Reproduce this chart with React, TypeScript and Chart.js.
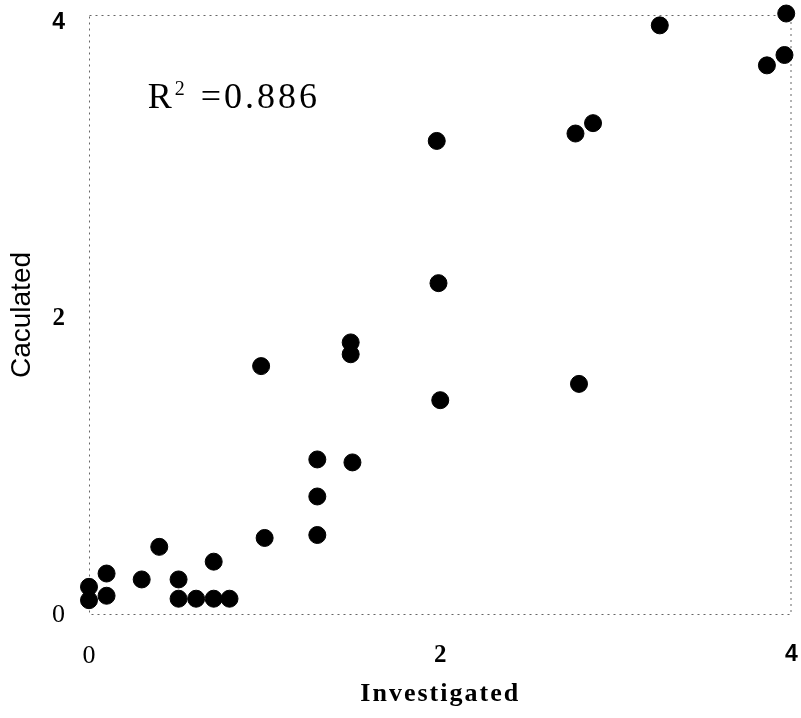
import React, { useEffect, useRef } from 'react';
import { Chart, registerables, LinearScale } from 'chart.js';

Chart.register(...registerables);

// ---- data ----
const investigated = [0.0, 0.0, 0.1, 0.1, 0.3, 0.4, 0.51, 0.51, 0.61, 0.71, 0.71, 0.8, 1.0, 1.3, 1.3, 1.3, 1.5, 0.98, 1.49, 1.49, 1.98, 1.99, 2.0, 2.79, 2.77, 2.87, 3.25, 3.86, 3.96, 3.97];
const calculated = [0.19, 0.1, 0.28, 0.13, 0.24, 0.46, 0.24, 0.11, 0.11, 0.36, 0.11, 0.11, 0.52, 0.54, 0.8, 1.05, 1.03, 1.68, 1.84, 1.76, 3.2, 2.24, 1.45, 1.56, 3.25, 3.32, 3.98, 3.71, 3.78, 4.06];
const xTicks = [0, 2, 4];
const yTicks = [0, 2, 4];
const xTitle = 'Investigated';
const yTitle = 'Caculated';
const rBase = 'R';
const rSup = '2';
const rValueText = '=0.886';
const rAnchor = [0.334, 3.42];

const SERIF = '"Liberation Serif", "Times New Roman", serif';
const SANS = '"Liberation Sans", Arial, sans-serif';
const TITLE_SPACING = 2;

class SpacedTitleScale extends (LinearScale as any) {
  static id = 'spacedLinear';
  static defaults = (LinearScale as any).defaults;
  drawTitle() {
    const ctx = (this as any).ctx;
    ctx.save();
    ctx.letterSpacing = TITLE_SPACING + 'px';
    super.drawTitle();
    ctx.restore();
  }
}
Chart.register(SpacedTitleScale as any);

const tickFont = (ctx: any) => {
  const v = ctx.tick ? ctx.tick.value : 0;
  if (v === 4) return { family: SANS, size: 23, weight: 'bold' };
  if (v === 2) return { family: SERIF, size: 25, weight: 'bold' };
  return { family: SERIF, size: 26, weight: 'normal' };
};

const zeroPadding = (s: any) => {
  s.paddingTop = 0;
  s.paddingBottom = 0;
  s.paddingLeft = 0;
  s.paddingRight = 0;
};

const framePlugin = {
  id: 'dottedFrame',
  beforeDatasetsDraw(chart: any) {
    const { ctx, chartArea: a } = chart;
    ctx.save();
    ctx.strokeStyle = '#666';
    ctx.lineWidth = 1;
    ctx.setLineDash([2, 4]);
    ctx.strokeRect(a.left + 0.5, a.top + 0.5, a.right - a.left - 1, a.bottom - a.top - 1);
    ctx.restore();
  },
};

const annotationPlugin = {
  id: 'rSquared',
  afterDatasetsDraw(chart: any) {
    const { ctx, scales } = chart;
    const px = scales.x.getPixelForValue(rAnchor[0]);
    const py = scales.y.getPixelForValue(rAnchor[1]);
    ctx.save();
    ctx.fillStyle = '#000';
    ctx.textAlign = 'left';
    ctx.textBaseline = 'alphabetic';
    ctx.font = `36px ${SERIF}`;
    ctx.fillText(rBase, px, py);
    const w = ctx.measureText(rBase).width;
    ctx.font = `20px ${SERIF}`;
    ctx.fillText(rSup, px + w + 3, py - 13);
    ctx.font = `36px ${SERIF}`;
    (ctx as any).letterSpacing = '3px';
    ctx.fillText(rValueText, px + 53, py);
    ctx.restore();
  },
};

export default function App() {
  const ref = useRef<HTMLCanvasElement>(null);
  useEffect(() => {
    if (!ref.current) return;
    const points = investigated.map((x, i) => ({ x, y: calculated[i] }));
    const chart = new Chart(ref.current, {
      type: 'scatter',
      data: {
        datasets: [
          {
            data: points,
            backgroundColor: '#000',
            borderColor: '#000',
            borderWidth: 1,
            pointRadius: 8.5,
            pointHoverRadius: 8.5,
            clip: false as any,
          },
        ],
      },
      options: {
        animation: false,
        responsive: false,
        devicePixelRatio: 1,
        layout: { padding: { top: 15, right: 6, left: 0, bottom: 0 } },
        plugins: { legend: { display: false }, tooltip: { enabled: false } },
        scales: {
          x: {
            type: 'spacedLinear' as any,
            min: 0,
            max: 4,
            afterBuildTicks: (s: any) => {
              s.ticks = xTicks.map((v) => ({ value: v }));
            },
            afterFit: (s: any) => {
              s.height = 103;
              zeroPadding(s);
            },
            grid: { display: false, drawTicks: false },
            border: { display: false },
            ticks: {
              color: '#000',
              padding: 26,
              maxRotation: 0,
              font: tickFont as any,
              callback: (v: any) => String(v),
            },
            title: {
              display: true,
              text: xTitle,
              color: '#000',
              font: { family: SERIF, size: 26, weight: 'bold' },
              padding: { top: 0, bottom: 8 },
            },
          } as any,
          y: {
            type: 'linear',
            min: 0,
            max: 4.05,
            afterBuildTicks: (s: any) => {
              s.ticks = yTicks.map((v) => ({ value: v }));
            },
            afterFit: (s: any) => {
              s.width = 89;
              zeroPadding(s);
            },
            grid: { display: false, drawTicks: false },
            border: { display: false },
            ticks: {
              color: '#000',
              padding: 24,
              font: tickFont as any,
              callback: (v: any) => String(v),
            },
            title: {
              display: true,
              text: yTitle,
              color: '#000',
              font: { family: SANS, size: 28, weight: 'normal' },
              padding: { top: 5, bottom: 0 },
            },
          },
        },
      },
      plugins: [framePlugin, annotationPlugin],
    });
    return () => chart.destroy();
  }, []);

  return (
    <div style={{ position: 'fixed', left: 0, top: 0, width: 801, height: 718, background: '#fff' }}>
      <canvas ref={ref} width={801} height={718} style={{ display: 'block' }} />
    </div>
  );
}
